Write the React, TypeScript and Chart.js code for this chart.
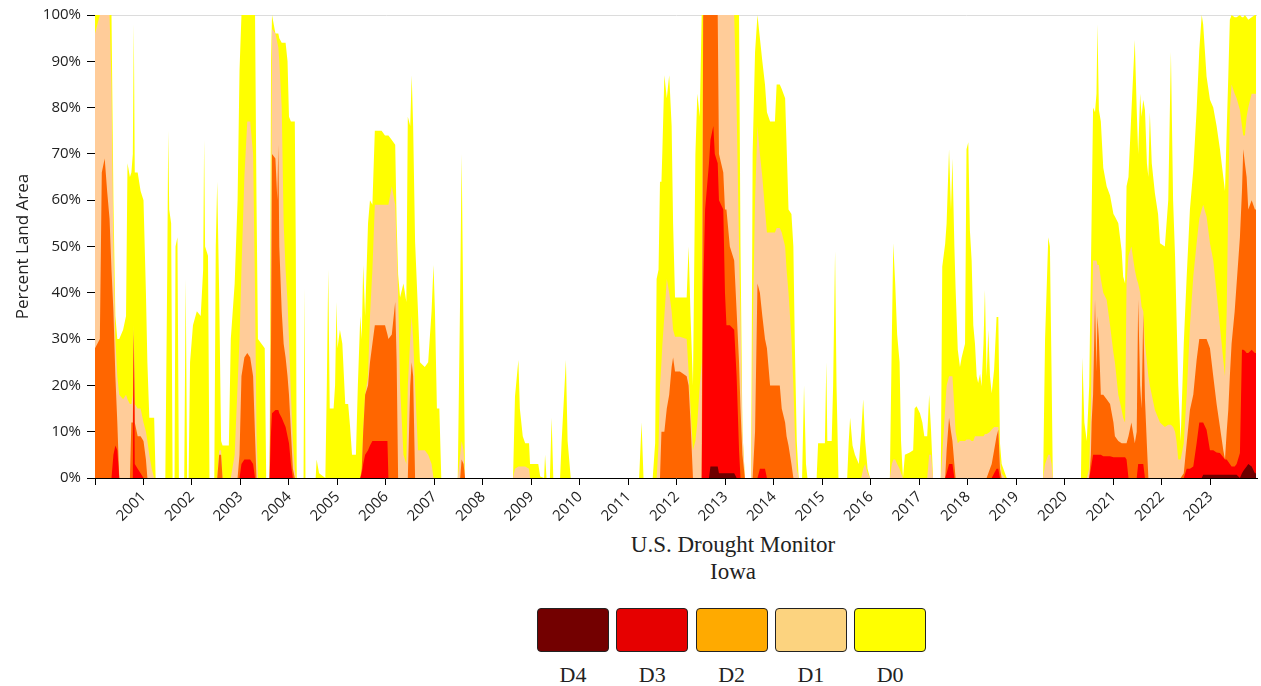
import React, { useEffect, useRef } from "react";
import { Chart, registerables } from "chart.js";

Chart.register(...registerables);

const categories = ["D4", "D3", "D2", "D1", "D0"];
const areaColors = ["#6e0000", "#ff0000", "#ff6600", "#ffcc99", "#ffff00"];
const legendColors = ["#730000", "#e60000", "#ffaa00", "#fcd37f", "#ffff00"];
const yearTicks = [
  2000, 2001, 2002, 2003, 2004, 2005, 2006, 2007, 2008, 2009, 2010, 2011,
  2012, 2013, 2014, 2015, 2016, 2017, 2018, 2019, 2020, 2021, 2022, 2023,
];
const percentTicks = [0, 10, 20, 30, 40, 50, 60, 70, 80, 90, 100];
const titleLines = ["U.S. Drought Monitor", "Iowa"];
const yAxisTitle = "Percent Land Area";

// week dates as decimal years
const dates = [
  // A
  2000.00, 2000.10, 2000.14, 2000.20, 2000.25, 2000.30, 2000.34, 2000.38, 2000.42, 2000.46,
  2000.50, 2000.58, 2000.64, 2000.67, 2000.72, 2000.75, 2000.78, 2000.80, 2000.82, 2000.88,
  2000.94, 2001.00, 2001.05, 2001.08, 2001.12, 2001.17, 2001.22, 2001.25,
  // B
  2001.45, 2001.49, 2001.51, 2001.53, 2001.57, 2001.60, 2001.64, 2001.66, 2001.70, 2001.73,
  2001.84, 2001.87, 2001.90, 2001.93, 2001.96, 2002.02, 2002.10, 2002.18, 2002.23, 2002.25,
  2002.27, 2002.33, 2002.36, 2002.46, 2002.49, 2002.52, 2002.56, 2002.60, 2002.63, 2002.76,
  2002.80, 2002.88, 2002.94, 2002.98,
  // C
  2003.02, 2003.08, 2003.14, 2003.20, 2003.26, 2003.30, 2003.33, 2003.36, 2003.50, 2003.53,
  2003.60, 2003.63, 2003.65, 2003.72, 2003.76, 2003.78, 2003.80, 2003.85, 2003.89, 2003.93,
  2003.97, 2004.00, 2004.04, 2004.08, 2004.12, 2004.14, 2004.16,
  // D
  2004.30, 2004.32, 2004.34, 2004.55, 2004.57, 2004.62, 2004.75, 2004.78, 2004.81, 2004.84,
  2004.92, 2004.95, 2004.98, 2005.00, 2005.05, 2005.10, 2005.16, 2005.22, 2005.26, 2005.30,
  2005.38, 2005.42, 2005.47,
  2005.50, 2005.53, 2005.57, 2005.63, 2005.67, 2005.72, 2005.77, 2005.91, 2005.98, 2006.03,
  2006.05, 2006.12, 2006.19, 2006.22, 2006.25, 2006.29, 2006.36, 2006.42, 2006.45, 2006.50,
  2006.53, 2006.56, 2006.60, 2006.66, 2006.70, 2006.80, 2006.87, 2006.94, 2006.98, 2007.01,
  2007.05, 2007.10, 2007.14, 2007.48, 2007.53, 2007.56, 2007.60, 2007.63,
  // E
  2008.62, 2008.66, 2008.73, 2008.76, 2008.82, 2008.87, 2008.95, 2008.97, 2009.14, 2009.18,
  2009.26, 2009.28, 2009.31, 2009.38, 2009.415, 2009.45, 2009.59, 2009.62, 2009.71, 2009.745,
  2009.81, 2011.22, 2011.27, 2011.31,
  // F
  2011.50, 2011.55, 2011.58, 2011.62, 2011.65, 2011.68, 2011.70, 2011.74, 2011.79, 2011.84,
  2011.89, 2011.92, 2011.96, 2012.06, 2012.20, 2012.24, 2012.28, 2012.33, 2012.38, 2012.42,
  2012.47,
  2012.51, 2012.54, 2012.58, 2012.66, 2012.69, 2012.75, 2012.78, 2012.84, 2012.866, 2012.955,
  2012.99, 2013.02, 2013.09, 2013.18, 2013.23, 2013.28, 2013.31, 2013.35, 2013.40,
  2013.53, 2013.56, 2013.61, 2013.66, 2013.71, 2013.76, 2013.815, 2013.855, 2013.92, 2014.02,
  2014.055, 2014.12, 2014.16, 2014.23, 2014.26, 2014.30, 2014.36, 2014.40, 2014.43, 2014.47,
  2014.51,
  // G
  2014.58, 2014.62, 2014.66, 2014.69, 2014.88, 2014.91, 2015.05, 2015.08, 2015.10, 2015.19,
  2015.22, 2015.26, 2015.29, 2015.33, 2015.51, 2015.54, 2015.57, 2015.62, 2015.67, 2015.75,
  2015.80, 2015.84, 2015.88, 2015.93, 2015.98,
  2016.39, 2016.43, 2016.46, 2016.50, 2016.54, 2016.59, 2016.62, 2016.66, 2016.70, 2016.80,
  2016.87, 2016.90, 2016.94, 2017.01, 2017.06, 2017.10, 2017.16, 2017.20, 2017.24, 2017.28,
  // H
  2017.44, 2017.47, 2017.53, 2017.56, 2017.61, 2017.65, 2017.68, 2017.72, 2017.745, 2017.79,
  2017.835, 2017.87, 2017.94, 2017.97, 2018.007, 2018.04, 2018.076, 2018.11, 2018.145, 2018.18,
  2018.21, 2018.25, 2018.28, 2018.32, 2018.35, 2018.385, 2018.42, 2018.454, 2018.49, 2018.54,
  2018.59, 2018.626, 2018.66, 2018.695, 2018.763, 2018.80,
  2019.55, 2019.59, 2019.656, 2019.69, 2019.725, 2019.75,
  // I
  2020.33, 2020.36, 2020.40, 2020.45, 2020.50, 2020.535, 2020.55, 2020.58, 2020.62, 2020.65,
  2020.67, 2020.70, 2020.74, 2020.79, 2020.86, 2020.93, 2021.00, 2021.03, 2021.10, 2021.17,
  2021.20, 2021.24, 2021.27, 2021.31, 2021.37, 2021.44, 2021.48, 2021.51, 2021.55, 2021.58,
  2021.615, 2021.65, 2021.69, 2021.72, 2021.75, 2021.79, 2021.855, 2021.92, 2021.96, 2022.06,
  2022.13, 2022.185, 2022.23, 2022.27, 2022.30, 2022.337, 2022.385, 2022.45, 2022.51, 2022.577,
  2022.646, 2022.715, 2022.77, 2022.82, 2022.85, 2022.92, 2022.99, 2023.058, 2023.127, 2023.196,
  2023.265, 2023.30, 2023.335, 2023.368, 2023.40, 2023.436, 2023.50, 2023.54, 2023.608, 2023.65,
  2023.677, 2023.71, 2023.746, 2023.78, 2023.85, 2023.917, 2023.94,
];

// D0-D4 (percent of area in D0 or worse)
const d0 = [
  100, 100, 100, 100, 100, 100, 100, 60, 35, 30,
  30, 32, 35, 68, 65, 66, 70, 98, 66, 66,
  62, 60, 40, 25, 13, 13, 13, 0,
  0, 45, 75, 58, 55, 0, 0, 50, 52, 0,
  0, 43, 0, 0, 25, 33, 36, 35, 45, 73,
  50, 48, 0, 0, 50, 64, 40, 8, 7, 7,
  30, 42, 60, 88,
  100, 100, 100, 100, 100, 100, 60, 30, 28, 0,
  0, 90, 100, 96, 96, 96, 95, 94, 94, 94,
  90, 78, 77, 77, 77, 50, 0,
  0, 41, 0, 0, 4, 1, 0, 20, 45, 15,
  15, 20, 38, 28, 32, 29, 16, 16, 11, 5,
  5, 20, 35,
  30, 46, 35, 55, 60, 59, 75, 75, 74, 74,
  74, 73, 72, 55, 44, 39, 42, 38, 78, 76,
  87, 76, 51, 36, 25, 24, 25, 36, 46, 36,
  15, 15, 0, 0, 40, 70, 30, 0,
  0, 17.6, 25.5, 15, 9, 7.5, 7.5, 3, 3, 0.3,
  0, 5, 0, 0, 13, 0, 0, 7.5, 25.5, 8,
  0, 0, 12, 0,
  0, 7.5, 43, 45, 64, 64, 71, 87, 82, 87,
  76, 55, 39, 39, 39, 50, 35, 20, 70, 83,
  78,
  100, 100, 100, 100, 100, 100, 100, 100, 100, 100,
  100, 100, 100, 100, 100, 100, 50, 10, 0,
  0, 70, 92, 100, 95, 90, 85, 79, 77, 77,
  85, 85, 84, 82, 72, 58, 57, 50, 29, 8,
  0,
  0, 20, 3, 0, 0, 7.5, 7.5, 25, 8, 8,
  20, 49, 20, 0, 0, 7.5, 13, 7, 5, 3,
  10, 17, 8, 2, 0,
  0, 30, 50.7, 42, 31, 25, 8, 0, 5, 5.5,
  6, 15, 15.5, 14, 12, 9, 9, 18, 10, 0,
  0, 45.6, 50.6, 55, 71, 58, 69, 50, 41, 27.7,
  24, 26, 29, 71, 72.5, 53.5, 47, 33, 29, 22,
  20.5, 22.5, 19.8, 29, 40.6, 22, 32, 22, 18.3, 23.5,
  34.8, 34.8, 7.5, 3, 1, 0,
  0, 30, 52, 50, 22, 0,
  0, 26, 12, 8, 20, 45, 56.5, 80, 79, 83,
  98, 79.5, 77, 67, 63, 61, 57, 56.5, 55, 49,
  43.5, 42, 63, 65, 79, 94.6, 79.5, 70, 83, 78,
  81.7, 79.5, 68, 65, 79, 68, 61.5, 57, 50.7, 50,
  60, 92, 60, 48, 35, 20, 8, 29, 43.5, 58,
  66.5, 79.5, 92.4, 100, 98, 86.7, 81.7, 80, 76, 71,
  65, 62, 75, 86.7, 99, 100, 99.5, 99.5, 100, 99.5,
  99.5, 100, 99.5, 99, 99.5, 100, 100,
];

// D1-D4
const d1 = [
  96, 100, 100, 100, 100, 100, 85, 50, 30, 22,
  18, 17, 18, 17, 16, 16, 18, 33, 16, 15,
  15, 12, 10, 8, 5, 2, 0, 0,
  0, 0, 0, 0, 0, 0, 0, 0, 0, 0,
  0, 0, 0, 0, 0, 0, 0, 0, 0, 0,
  0, 0, 0, 0, 0, 0, 6, 6, 0, 0,
  0, 5, 20, 30,
  45, 65, 77, 77, 70, 40, 10, 0, 0, 0,
  0, 50, 97, 96, 94, 93, 90, 80, 55, 45,
  38, 30, 18, 8, 2, 0, 0,
  0, 0, 0, 0, 0, 0, 0, 0, 0, 0,
  0, 0, 0, 0, 0, 0, 0, 0, 0, 0,
  0, 0, 0,
  2, 10, 18, 22, 35, 45, 59, 59, 59, 59,
  59, 63, 59, 50, 40, 20, 5, 3, 20, 30,
  35, 30, 20, 6, 6, 6, 5, 3, 0, 0,
  0, 0, 0, 0, 5, 8, 6, 0,
  0, 2, 2.5, 2.5, 2.5, 2.5, 2, 0, 0, 0,
  0, 0, 0, 0, 0, 0, 0, 0, 0, 0,
  0, 0, 0, 0,
  0, 0, 0, 7, 20, 25, 29, 35, 43, 40,
  36, 32, 30.5, 30.5, 30, 23, 15, 6, 8, 12,
  20,
  25, 100, 100, 100, 100, 100, 100, 100, 100, 100,
  100, 100, 100, 100, 80, 50, 35, 10, 0,
  0, 30, 60, 76, 70, 65, 58, 53, 53, 53,
  54, 54, 53, 50, 45, 40, 30, 20, 10, 2,
  0,
  0, 0, 0, 0, 0, 0, 0, 0, 0, 0,
  0, 0, 0, 0, 0, 0, 0, 0, 0, 0,
  0, 2, 3, 1, 0,
  0, 3, 4, 4, 3, 2, 1, 0, 0, 0,
  0, 0, 0, 0, 0, 0, 0, 5, 5, 0,
  0, 5, 15, 20, 22, 22, 22, 15, 10, 7.5,
  8, 8, 8, 8.3, 8.3, 8.3, 8, 8, 9, 9,
  9, 9, 9, 9, 9.5, 9.5, 9.7, 10, 10.5, 11,
  11, 11, 4, 1, 0, 0,
  0, 3, 5, 5, 3, 0,
  0, 0, 0, 0, 2, 15, 30, 47, 47, 47,
  46, 46, 43, 40, 38.5, 33, 27, 25, 18, 14.7,
  13, 12, 42, 48, 50, 45, 43, 42, 40, 37,
  36, 29, 25, 22, 20, 18, 14.7, 13, 12, 11,
  11.5, 11.5, 11, 10, 8, 4, 4, 7.5, 18, 32.7,
  43.5, 50.7, 56, 58, 59, 56.5, 50.7, 47, 40, 32.7,
  25.5, 22, 36, 60, 79.5, 85, 83, 82, 79.5, 76,
  74, 74, 78, 80, 83, 83, 83,
];

// D2-D4
const d2 = [
  28, 30, 66, 69, 62, 56, 45, 36, 22, 12,
  0, 0, 0, 0, 0, 12, 12, 32, 12, 9,
  9, 8, 4, 0, 0, 0, 0, 0,
  0, 0, 0, 0, 0, 0, 0, 0, 0, 0,
  0, 0, 0, 0, 0, 0, 0, 0, 0, 0,
  0, 0, 0, 0, 0, 0, 5, 5, 0, 0,
  0, 0, 0, 5,
  22, 26, 27, 26, 22, 9, 0, 0, 0, 0,
  0, 30, 70, 69, 60, 72, 50, 36, 29, 26,
  22, 18, 10, 2, 0, 0, 0,
  0, 0, 0, 0, 0, 0, 0, 0, 0, 0,
  0, 0, 0, 0, 0, 0, 0, 0, 0, 0,
  0, 0, 0,
  2, 10, 18, 20, 25, 29, 33, 33, 33, 31,
  30, 31, 38, 25, 0, 0, 0, 0, 0, 20,
  25, 22, 0, 0, 0, 0, 0, 0, 0, 0,
  0, 0, 0, 0, 0, 4, 3, 0,
  0, 0, 0, 0, 0, 0, 0, 0, 0, 0,
  0, 0, 0, 0, 0, 0, 0, 0, 0, 0,
  0, 0, 0, 0,
  0, 0, 0, 0, 0, 10, 10, 10, 15, 18,
  24, 26, 23, 23, 22, 20, 12, 0, 0, 0,
  0,
  0, 100, 100, 100, 100, 100, 100, 100, 70, 66,
  58, 58, 50, 47, 36, 25, 15, 5, 0,
  0, 0, 10, 42, 40, 35, 30, 28, 20, 20,
  20, 20, 15, 12, 9, 7, 3, 0, 0, 0,
  0,
  0, 0, 0, 0, 0, 0, 0, 0, 0, 0,
  0, 0, 0, 0, 0, 0, 0, 0, 0, 0,
  0, 0, 0, 0, 0,
  0, 0, 0, 0, 0, 0, 0, 0, 0, 0,
  0, 0, 0, 0, 0, 0, 0, 0, 0, 0,
  0, 0, 0, 6, 13, 10, 8, 3, 0, 0,
  0, 0, 0, 0, 0, 0, 0, 0, 0, 0,
  0, 0, 0, 0, 0, 0, 1, 2, 3, 6,
  9, 10.4, 2, 0, 0, 0,
  0, 0, 0, 0, 0, 0,
  0, 0, 0, 0, 0, 5, 12, 18, 38.5, 23,
  35, 30, 18, 18, 17, 16, 12, 9, 8, 7.5,
  7.5, 7.5, 7.5, 9, 12, 7.5, 10, 38.5, 20, 15,
  35.5, 17, 7, 0, 0, 0, 0, 0, 0, 0,
  0, 0, 0, 0, 0, 0, 0, 1, 7.5, 14.7,
  18, 25.5, 30, 30, 30, 30, 28, 22, 16, 11,
  6, 4, 10, 14.7, 22, 29, 36, 42, 52, 62,
  71, 68, 65, 58, 60, 58, 58,
];

// D3-D4
const d3 = [
  0, 0, 0, 0, 0, 0, 0, 5, 7, 6,
  0, 0, 0, 0, 0, 0, 0, 31, 3, 2,
  1, 0, 0, 0, 0, 0, 0, 0,
  0, 0, 0, 0, 0, 0, 0, 0, 0, 0,
  0, 0, 0, 0, 0, 0, 0, 0, 0, 0,
  0, 0, 0, 0, 0, 0, 0, 0, 0, 0,
  0, 0, 0, 0,
  3, 4, 4, 4, 3, 0, 0, 0, 0, 0,
  0, 10, 14, 14.7, 14.7, 14.7, 14, 13, 12, 11,
  9, 7.5, 3, 0, 0, 0, 0,
  0, 0, 0, 0, 0, 0, 0, 0, 0, 0,
  0, 0, 0, 0, 0, 0, 0, 0, 0, 0,
  0, 0, 0,
  1, 3, 5, 6, 7, 8, 8, 8, 8, 8,
  0, 0, 0, 0, 0, 0, 0, 0, 0, 0,
  0, 0, 0, 0, 0, 0, 0, 0, 0, 0,
  0, 0, 0, 0, 0, 0, 0, 0,
  0, 0, 0, 0, 0, 0, 0, 0, 0, 0,
  0, 0, 0, 0, 0, 0, 0, 0, 0, 0,
  0, 0, 0, 0,
  0, 0, 0, 0, 0, 0, 0, 0, 0, 0,
  0, 0, 0, 0, 0, 0, 0, 0, 0, 0,
  0,
  0, 40, 58, 68, 73, 76, 70, 68, 60, 58,
  40, 33, 33, 32, 22, 6, 0, 0, 0,
  0, 0, 0, 0, 2, 2, 2, 0, 0, 0,
  0, 0, 0, 0, 0, 0, 0, 0, 0, 0,
  0,
  0, 0, 0, 0, 0, 0, 0, 0, 0, 0,
  0, 0, 0, 0, 0, 0, 0, 0, 0, 0,
  0, 0, 0, 0, 0,
  0, 0, 0, 0, 0, 0, 0, 0, 0, 0,
  0, 0, 0, 0, 0, 0, 0, 0, 0, 0,
  0, 0, 0, 1, 3, 3, 3, 0, 0, 0,
  0, 0, 0, 0, 0, 0, 0, 0, 0, 0,
  0, 0, 0, 0, 0, 0, 0, 0, 0, 1,
  2, 2, 0, 0, 0, 0,
  0, 0, 0, 0, 0, 0,
  0, 0, 0, 0, 0, 2, 3, 5, 5, 5,
  5, 5, 5, 4.7, 4.7, 4.7, 4.5, 4.5, 4.5, 4.5,
  4.5, 4.5, 4, 0, 0, 0, 0, 3, 3, 3,
  3, 0, 0, 0, 0, 0, 0, 0, 0, 0,
  0, 0, 0, 0, 0, 0, 0, 0, 2, 2,
  2.5, 7.5, 12, 12, 12, 10.4, 6, 6, 5.5, 5.4,
  4.5, 4, 4, 3.5, 3, 2.5, 2.5, 3, 5.4, 27.7,
  27.7, 27.5, 27, 27, 27.7, 27, 27,
];

// D4
const d4 = [
  0, 0, 0, 0, 0, 0, 0, 0, 0, 0,
  0, 0, 0, 0, 0, 0, 0, 0, 0, 0,
  0, 0, 0, 0, 0, 0, 0, 0,
  0, 0, 0, 0, 0, 0, 0, 0, 0, 0,
  0, 0, 0, 0, 0, 0, 0, 0, 0, 0,
  0, 0, 0, 0, 0, 0, 0, 0, 0, 0,
  0, 0, 0, 0,
  0, 0, 0, 0, 0, 0, 0, 0, 0, 0,
  0, 0, 0, 0, 0, 0, 0, 0, 0, 0,
  0, 0, 0, 0, 0, 0, 0,
  0, 0, 0, 0, 0, 0, 0, 0, 0, 0,
  0, 0, 0, 0, 0, 0, 0, 0, 0, 0,
  0, 0, 0,
  0, 0, 0, 0, 0, 0, 0, 0, 0, 0,
  0, 0, 0, 0, 0, 0, 0, 0, 0, 0,
  0, 0, 0, 0, 0, 0, 0, 0, 0, 0,
  0, 0, 0, 0, 0, 0, 0, 0,
  0, 0, 0, 0, 0, 0, 0, 0, 0, 0,
  0, 0, 0, 0, 0, 0, 0, 0, 0, 0,
  0, 0, 0, 0,
  0, 0, 0, 0, 0, 0, 0, 0, 0, 0,
  0, 0, 0, 0, 0, 0, 0, 0, 0, 0,
  0,
  0, 0, 0, 0, 2.5, 2.5, 2.5, 2.5, 1, 1,
  1, 1, 1, 1, 0, 0, 0, 0, 0,
  0, 0, 0, 0, 0, 0, 0, 0, 0, 0,
  0, 0, 0, 0, 0, 0, 0, 0, 0, 0,
  0,
  0, 0, 0, 0, 0, 0, 0, 0, 0, 0,
  0, 0, 0, 0, 0, 0, 0, 0, 0, 0,
  0, 0, 0, 0, 0,
  0, 0, 0, 0, 0, 0, 0, 0, 0, 0,
  0, 0, 0, 0, 0, 0, 0, 0, 0, 0,
  0, 0, 0, 0, 0, 0, 0, 0, 0, 0,
  0, 0, 0, 0, 0, 0, 0, 0, 0, 0,
  0, 0, 0, 0, 0, 0, 0, 0, 0, 0,
  0, 0, 0, 0, 0, 0,
  0, 0, 0, 0, 0, 0,
  0, 0, 0, 0, 0, 0, 0, 0, 0, 0,
  0, 0, 0, 0, 0, 0, 0, 0, 0, 0,
  0, 0, 0, 0, 0, 0, 0, 0, 0, 0,
  0, 0, 0, 0, 0, 0, 0, 0, 0, 0,
  0, 0, 0, 0, 0, 0, 0, 0, 0, 0,
  0, 0, 0, 0, 0.7, 0.7, 0.7, 0.7, 0.7, 0.7,
  0.7, 0.7, 0.7, 0.7, 0.7, 0.7, 0.7, 0.7, 0, 1,
  1.5, 2, 2.5, 3, 2.5, 1, 1,
];

const seriesByCategory = [d4, d3, d2, d1, d0];

const lengths = [dates, d0, d1, d2, d3, d4].map((a) => a.length);
if (lengths.some((l) => l !== dates.length)) {
  throw new Error("Series length mismatch: " + lengths.join(","));
}

const SANS = '"Open Sans", "Noto Sans", sans-serif';
const SERIF = '"Liberation Serif", "Times New Roman", serif';

export default function App() {
  const canvasRef = useRef<HTMLCanvasElement | null>(null);

  useEffect(() => {
    const canvas = canvasRef.current;
    if (!canvas) return;
    const chart = new Chart(canvas, {
      type: "line",
      data: {
        datasets: categories.map((c, i) => ({
          label: c,
          data: dates.map((t, j) => ({ x: t, y: seriesByCategory[i][j] })),
          backgroundColor: areaColors[i],
          borderColor: "rgba(0,0,0,0)",
          borderWidth: 0,
          pointRadius: 0,
          pointHoverRadius: 0,
          fill: "origin",
          tension: 0,
        })),
      },
      options: {
        animation: false,
        responsive: false,
        maintainAspectRatio: false,
        events: [],
        layout: { padding: { top: 14, right: 4, bottom: 0, left: 0 } },
        plugins: {
          legend: { display: false },
          title: { display: false },
          tooltip: { enabled: false },
        },
        scales: {
          x: {
            type: "linear",
            min: 2000,
            max: 2023.96,
            afterBuildTicks: (s: any) => {
              s.ticks = yearTicks.map((v) => ({ value: v }));
            },
            afterFit: (s: any) => {
              s.height = 47;
            },
            grid: {
              drawOnChartArea: false,
              tickLength: 7,
              tickColor: "#000",
              color: "#000",
            },
            border: { color: "#000", width: 1 },
            ticks: {
              autoSkip: false,
              minRotation: 45,
              maxRotation: 45,
              padding: 3,
              color: "#222",
              font: { family: SANS, size: 15 },
              callback: (v: any) => (v === 2000 ? "" : String(v)),
            },
          },
          y: {
            min: 0,
            max: 100,
            afterBuildTicks: (s: any) => {
              s.ticks = percentTicks.map((v) => ({ value: v }));
            },
            afterFit: (s: any) => {
              s.width = 95;
            },
            grid: {
              color: (ctx: any) =>
                ctx.tick && ctx.tick.value === 100 ? "#dcdcdc" : "rgba(0,0,0,0)",
              tickColor: "#000",
              tickLength: 8,
            },
            border: { color: "#000", width: 1 },
            ticks: {
              padding: 6,
              color: "#222",
              font: { family: SANS, size: 15 },
              callback: (v: any) => v + "%",
            },
            title: {
              display: true,
              text: yAxisTitle,
              color: "#222",
              font: { family: SANS, size: 17 },
              padding: { top: 13, bottom: 0 },
            },
          },
        },
      },
    } as any);
    return () => chart.destroy();
  }, []);

  return (
    <div
      style={{
        position: "absolute",
        left: 0,
        top: 0,
        width: 1261,
        height: 686,
        background: "#fff",
        overflow: "hidden",
      }}
    >
      <canvas
        ref={canvasRef}
        width={1261}
        height={525}
        style={{ position: "absolute", left: 0, top: 0, width: 1261, height: 525 }}
      />
      <div
        style={{
          position: "absolute",
          left: 483,
          top: 531,
          width: 500,
          textAlign: "center",
          fontFamily: SERIF,
          fontSize: 23,
          lineHeight: "27px",
          color: "#222",
        }}
      >
        {titleLines.map((t) => (
          <div key={t}>{t}</div>
        ))}
      </div>
      {categories.map((c, i) => (
        <React.Fragment key={c}>
          <div
            style={{
              position: "absolute",
              left: 537 + i * 79.3,
              top: 608,
              width: 72,
              height: 44,
              background: legendColors[i],
              border: "1px solid #222",
              borderRadius: 4,
              boxSizing: "border-box",
            }}
          />
          <div
            style={{
              position: "absolute",
              left: 537 + i * 79.3,
              top: 664,
              width: 72,
              textAlign: "center",
              fontFamily: SERIF,
              fontSize: 22,
              lineHeight: "22px",
              color: "#222",
              whiteSpace: "nowrap",
            }}
          >
            {c}
          </div>
        </React.Fragment>
      ))}
    </div>
  );
}
